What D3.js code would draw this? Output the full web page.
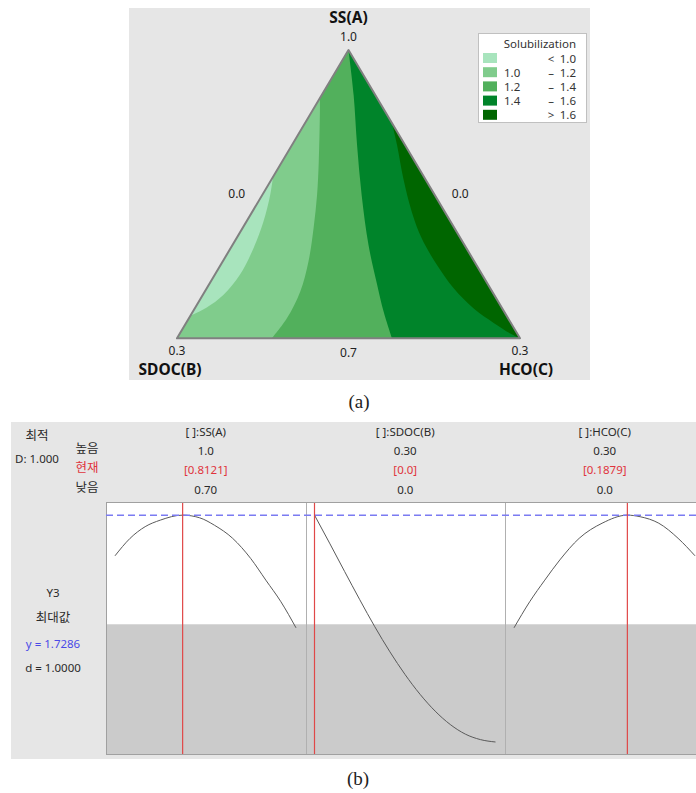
<!DOCTYPE html>
<html>
<head>
	<title>Solubilization</title>
	<meta charset='utf-8'>
	<style>
		body {
			margin: 0;
			background: #fff;
		}
		text {
			font-family: 'Noto Sans', 'Noto Sans CJK KR', sans-serif;
			fill: #222;
			dominant-baseline: central;
		}
		.panel-bg {
			fill: #e6e6e6;
		}
		.tri-edge {
			fill: none;
			stroke: #808080;
			stroke-width: 2px;
			stroke-linejoin: round;
		}
		.vertex-name {
			font-size: 15.5px;
			font-weight: bold;
			fill: #111;
		}
		.tick-num {
			font-size: 12px;
		}
		.legend-box {
			fill: #fff;
			stroke: #c0c0c0;
		}
		.legend text {
			font-size: 11.5px;
			fill: #333;
		}
		.caption {
			font-family: 'Liberation Serif', 'DejaVu Serif', serif;
			font-size: 19px;
			fill: #222;
		}
		.opt text {
			font-size: 11.5px;
			fill: #2a2a2a;
		}
		.opt text.ko {
			font-size: 12.5px;
		}
		.opt .red {
			fill: #e0343c;
		}
		.opt .blue {
			fill: #4a4ae6;
		}
		.profile {
			fill: none;
			stroke: #5a5a5a;
			stroke-width: 1px;
		}
	</style>
</head>
<body>
<div id="chart"></div>
<script src='https://d3js.org/d3.v7.min.js'></script>
<script>
	'use strict';

	// ---- (a) mixture contour: boundaries as [SDOC(B), HCO(C)], SS(A) = 1 - B - C
	const levelColors = ['#a8e4bd', '#80cc8c', '#52b05c', '#00842a', '#006600'];
	const legendLow = ['', '1.0', '1.2', '1.4', ''];
	const legendSep = ['<', '–', '–', '–', '>'];
	const legendHigh = ['1.0', '1.2', '1.4', '1.6', '1.6'];

	const contour10 = [[0.132, 0], [0.144, 0.007], [0.164, 0.015], [0.186, 0.020], [0.212, 0.022],
		[0.237, 0.018], [0.258, 0.010], [0.273, 0.002], [0.276, 0]];
	const contour12 = [[0.050, 0], [0.057, 0.007], [0.084, 0.032], [0.103, 0.048], [0.123, 0.062],
		[0.145, 0.075], [0.168, 0.0835], [0.1935, 0.0857], [0.217, 0.083]];
	const contour14 = [[0, 0], [0.019, 0.028], [0.042, 0.057], [0.064, 0.087], [0.084, 0.119],
		[0.097, 0.147], [0.1055, 0.167], [0.112, 0.188]];
	const contour16 = [[0, 0.076], [0.007, 0.092], [0.019, 0.115], [0.029, 0.140], [0.034, 0.162],
		[0.0345, 0.189], [0.032, 0.216], [0.025, 0.244], [0.015, 0.269], [0.006, 0.289], [0, 0.3]];

	// ---- (b) optimization plot
	const factorNames = ['[ ]:SS(A)', '[ ]:SDOC(B)', '[ ]:HCO(C)'];
	const factorHigh = ['1.0', '0.30', '0.30'];
	const factorCur = ['[0.8121]', '[0.0]', '[0.1879]'];
	const factorLow = ['0.70', '0.0', '0.0'];
	const factorRange = [[0.7, 1.0], [0, 0.3], [0, 0.3]];
	const factorOptimum = [0.8121, 0.0, 0.1879];
	const optimumY = 1.7286;
	const lowerBound = 1.41;

	const profileAx = [0.700, 0.725, 0.750, 0.775, 0.8121, 0.840, 0.865, 0.895, 0.925, 0.950, 0.975, 1.000];
	const profileAy = [1.610, 1.661, 1.695, 1.714, 1.7286, 1.721, 1.699, 1.661, 1.602, 1.539, 1.476, 1.400];
	const profileBx = [0, 0.025, 0.050, 0.075, 0.100, 0.125, 0.150, 0.175, 0.200, 0.225, 0.250, 0.275, 0.300];
	const profileBy = [1.7286, 1.647, 1.564, 1.482, 1.403, 1.330, 1.264, 1.206, 1.157, 1.118, 1.090, 1.074, 1.067];
	const profileCx = [0, 0.026, 0.051, 0.076, 0.108, 0.146, 0.1879, 0.209, 0.240, 0.272, 0.300];
	const profileCy = [1.400, 1.476, 1.539, 1.598, 1.661, 1.705, 1.7286, 1.724, 1.705, 1.661, 1.610];

	const svg = d3.select('#chart').append('svg')
		.attr('width', 696)
		.attr('height', 793);

	// ================= (a) =================
	svg.append('rect').attr('class', 'panel-bg')
		.attr('x', 129).attr('y', 8).attr('width', 461).attr('height', 372);

	// C - B -> x, A -> y
	const ternX = d3.scaleLinear().domain([-0.3, 0.3]).range([177, 520]);
	const ternY = d3.scaleLinear().domain([0.7, 1.0]).range([338.3, 50]);
	const proj = (p) => [ternX(p[1] - p[0]), ternY(1 - p[0] - p[1])];

	const vA = [0, 0], vB = [0.3, 0], vC = [0, 0.3];
	const smooth = d3.line().curve(d3.curveCatmullRom.alpha(0.5));

	function regionPath(boundary, corners) {
		let d = smooth(boundary.map(proj));
		corners.forEach((c) => {
			const p = proj(c);
			d += 'L' + p[0] + ',' + p[1];
		});
		return d + 'Z';
	}

	const tri = d3.line()([vA, vB, vC].map(proj)) + 'Z';
	const regions = [
		{d: tri, color: levelColors[1]},
		{d: regionPath(contour10, []), color: levelColors[0]},
		{d: regionPath(contour12, [vC, vA]), color: levelColors[2]},
		{d: regionPath(contour14, [vC]), color: levelColors[3]},
		{d: regionPath(contour16, []), color: levelColors[4]}
	];
	svg.append('g').selectAll('path')
		.data(regions)
		.enter().append('path')
		.attr('d', (d) => d.d)
		.attr('fill', (d) => d.color);

	svg.append('path').attr('class', 'tri-edge').attr('d', tri);

	// vertex names and edge values
	const pA = proj(vA), pB = proj(vB), pC = proj(vC);
	svg.append('text').attr('class', 'vertex-name').attr('text-anchor', 'middle')
		.attr('x', pA[0]).attr('y', pA[1] - 33).text('SS(A)');
	svg.append('text').attr('class', 'vertex-name').attr('text-anchor', 'middle')
		.attr('x', pB[0] - 7).attr('y', pB[1] + 31).text('SDOC(B)');
	svg.append('text').attr('class', 'vertex-name').attr('text-anchor', 'middle')
		.attr('x', pC[0] + 6).attr('y', pC[1] + 31).text('HCO(C)');

	const tickLabels = [
		{p: pA, dx: 0, dy: -14, t: '1.0'},
		{p: pB, dx: 0, dy: 12, t: '0.3'},
		{p: pC, dx: 0, dy: 12, t: '0.3'},
		{p: proj([0.15, 0.15]), dx: 0, dy: 14, t: '0.7'},
		{p: proj([0.15, 0]), dx: -26, dy: -1, t: '0.0'},
		{p: proj([0, 0.15]), dx: 26, dy: -1, t: '0.0'}
	];
	svg.append('g').selectAll('text')
		.data(tickLabels)
		.enter().append('text')
		.attr('class', 'tick-num')
		.attr('text-anchor', 'middle')
		.attr('x', (d) => d.p[0] + d.dx)
		.attr('y', (d) => d.p[1] + d.dy)
		.text((d) => d.t);

	// legend
	const legend = svg.append('g').attr('class', 'legend').attr('transform', 'translate(478,33)');
	legend.append('rect').attr('class', 'legend-box')
		.attr('x', 0.5).attr('y', 0.5).attr('width', 108).attr('height', 89);
	legend.append('text').attr('x', 98).attr('y', 10).attr('text-anchor', 'end').text('Solubilization');
	const rows = legend.selectAll('.row')
		.data(levelColors)
		.enter().append('g')
		.attr('class', 'row')
		.attr('transform', (d, i) => 'translate(0,' + (25 + i * 14.2) + ')');
	rows.append('rect').attr('x', 5).attr('y', -5).attr('width', 14).attr('height', 10)
		.attr('fill', (d) => d);
	rows.append('text').attr('x', 26).text((d, i) => legendLow[i]);
	rows.append('text').attr('x', 73).attr('text-anchor', 'middle').text((d, i) => legendSep[i]);
	rows.append('text').attr('x', 98).attr('text-anchor', 'end').text((d, i) => legendHigh[i]);

	svg.append('text').attr('class', 'caption').attr('text-anchor', 'middle')
		.attr('x', 359).attr('y', 401).text('(a)');

	// ================= (b) =================
	const opt = svg.append('g').attr('class', 'opt');
	opt.append('rect').attr('class', 'panel-bg')
		.attr('x', 11).attr('y', 422).attr('width', 685).attr('height', 337);

	const plotTop = 503, plotBottom = 754;
	const yScale = d3.scaleLinear().domain([1.032, 1.764]).range([plotBottom, plotTop]);
	const band = d3.scaleBand().domain(d3.range(3)).range([106, 704.5]);
	const xScales = factorRange.map((r, i) => d3.scaleLinear().domain(r)
		.range([band(i) + 9, band(i) + 190]));

	opt.append('rect').attr('x', 106).attr('y', plotTop)
		.attr('width', 600).attr('height', yScale(lowerBound) - plotTop).attr('fill', '#fff');
	opt.append('rect').attr('x', 106).attr('y', yScale(lowerBound))
		.attr('width', 600).attr('height', plotBottom - yScale(lowerBound)).attr('fill', '#cbcbcb');
	opt.append('rect').attr('x', 106.5).attr('y', plotTop - 0.5)
		.attr('width', 600).attr('height', plotBottom - plotTop + 1)
		.attr('fill', 'none').attr('stroke', '#a0a0a0');

	opt.selectAll('.sep')
		.data([1, 2])
		.enter().append('line')
		.attr('class', 'sep')
		.attr('x1', (i) => Math.round(band(i)) + 0.5).attr('x2', (i) => Math.round(band(i)) + 0.5)
		.attr('y1', plotTop).attr('y2', plotBottom)
		.attr('stroke', '#b0b0b0');

	const profiles = [
		d3.zip(profileAx, profileAy),
		d3.zip(profileBx, profileBy),
		d3.zip(profileCx, profileCy)
	];
	profiles.forEach((pts, i) => {
		const line = d3.line()
			.x((d) => xScales[i](d[0]))
			.y((d) => yScale(d[1]))
			.curve(d3.curveMonotoneX);
		opt.append('path').attr('class', 'profile').attr('d', line(pts));
	});

	opt.append('line')
		.attr('x1', 106).attr('x2', 696)
		.attr('y1', yScale(optimumY)).attr('y2', yScale(optimumY))
		.attr('stroke', '#7b7bf2').attr('stroke-width', 1.5).attr('stroke-dasharray', '7,4');

	opt.selectAll('.cur')
		.data(factorOptimum)
		.enter().append('line')
		.attr('class', 'cur')
		.attr('x1', (d, i) => xScales[i](d)).attr('x2', (d, i) => xScales[i](d))
		.attr('y1', plotTop).attr('y2', plotBottom)
		.attr('stroke', '#e04848').attr('stroke-width', 1.2);

	// column headers
	const cols = opt.selectAll('.col')
		.data(factorNames)
		.enter().append('g')
		.attr('class', 'col')
		.attr('transform', (d, i) => 'translate(' + (band(i) + band.bandwidth() / 2) + ',0)');
	cols.append('text').attr('text-anchor', 'middle').attr('y', 431).text((d) => d);
	cols.append('text').attr('text-anchor', 'middle').attr('y', 450.5).text((d, i) => factorHigh[i]);
	cols.append('text').attr('text-anchor', 'middle').attr('y', 469).attr('class', 'red')
		.text((d, i) => factorCur[i]);
	cols.append('text').attr('text-anchor', 'middle').attr('y', 489).text((d, i) => factorLow[i]);

	// left side labels
	const leftText = [
		{x: 37, y: 435, t: '최적', c: 'ko'},
		{x: 37, y: 458, t: 'D: 1.000', c: ''},
		{x: 87, y: 448, t: '높음', c: 'ko'},
		{x: 87, y: 467, t: '현재', c: 'ko red'},
		{x: 87, y: 487, t: '낮음', c: 'ko'},
		{x: 53, y: 592, t: 'Y3', c: ''},
		{x: 53, y: 617, t: '최대값', c: 'ko'},
		{x: 53, y: 643, t: 'y = ' + optimumY.toFixed(4), c: 'blue'},
		{x: 53, y: 667, t: 'd = 1.0000', c: ''}
	];
	opt.selectAll('.lbl')
		.data(leftText)
		.enter().append('text')
		.attr('class', (d) => d.c)
		.attr('text-anchor', 'middle')
		.attr('x', (d) => d.x)
		.attr('y', (d) => d.y)
		.text((d) => d.t);

	svg.append('text').attr('class', 'caption').attr('text-anchor', 'middle')
		.attr('x', 358).attr('y', 778).text('(b)');
</script>
</body>
</html>
